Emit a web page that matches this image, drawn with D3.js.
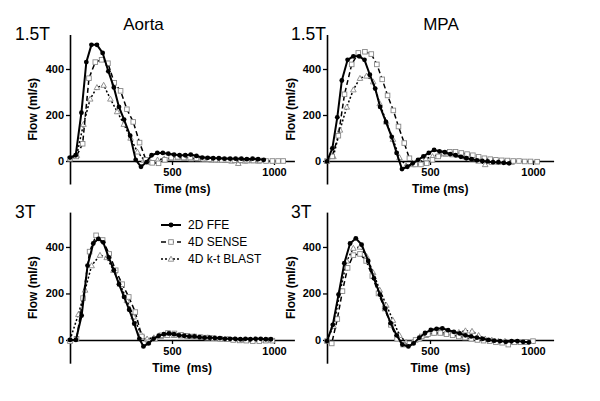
<!DOCTYPE html>
<html><head><meta charset="utf-8">
<script src="https://cdn.jsdelivr.net/npm/d3@7"></script>
<style>
html,body{margin:0;padding:0;background:#fff;}
svg{display:block;font-family:"Liberation Sans",Arial,sans-serif;}
</style></head>
<body><svg id="c" width="600" height="401"></svg>
<script>
// ---------- DATA ----------
const seriesNames = ["2D FFE", "4D SENSE", "4D k-t BLAST"];
const panelTitles = ["Aorta", "MPA"];
const rowLabels = ["1.5T", "3T"];
const xTicks = [500, 1000];
const yTicks = [0, 200, 400];
const xLabelTop = "Time (ms)";
const xLabelBottom = "Time  (ms)";
const yLabel = "Flow (ml/s)";

// Aorta 1.5T
const aorta15_ffe_t = [0,28,56,80,105,132,160,188,215,240,265,295,322,348,375,400,428,455,482,510,537,565,592,620,648,675,702,730,757,785,812,840,867,895,922,950];
const aorta15_ffe_v = [15,25,210,430,505,505,470,390,320,235,180,110,5,-25,-5,25,35,35,32,28,25,25,28,22,15,14,12,12,10,10,10,10,8,10,8,5];
const aorta15_sense_t = [0,31,62,93,124,155,186,217,248,279,310,341,372,403,434,465,496,527,558,589,620,651,682,713,744,775,806,837,868,899,930,961,992,1020,1045];
const aorta15_sense_v = [10,20,75,360,430,440,425,340,305,225,170,80,5,-8,-10,5,15,18,15,15,12,10,8,6,5,5,3,3,2,2,2,0,0,0,0];
const aorta15_kt_t = [0,33,66,99,132,165,198,231,264,297,330,363,396,429,462,495,528,561,594,627,660,693,726,759,792,825,858,891,924];
const aorta15_kt_v = [10,25,160,270,320,330,270,215,160,100,40,5,-5,5,10,12,15,12,10,10,8,5,5,3,0,-10,0,2,0];

// MPA 1.5T
const mpa15_ffe_t = [0,26,50,72,100,128,156,182,208,234,258,286,314,338,364,390,416,442,468,494,520,546,572,598,624,650,676,702,728,754,780,806,832,858,884];
const mpa15_ffe_v = [-2,55,190,350,440,455,455,440,375,315,235,170,105,35,-35,-25,-10,5,20,35,48,42,38,30,25,18,12,8,3,0,-2,-5,-5,-8,-10];
const mpa15_sense_t = [0,25,55,85,120,152,184,215,242,268,294,322,347,375,400,428,456,484,512,540,568,596,624,652,680,708,736,764,792,820,848,876,904,932,960,988,1020];
const mpa15_sense_v = [0,20,110,290,420,470,475,465,420,355,285,220,150,78,12,-15,-15,-10,5,20,35,40,40,35,30,25,18,12,8,5,3,2,0,0,-2,-2,-3];
const mpa15_kt_t = [0,31,63,96,128,160,192,224,256,288,320,352,384,416,448,480,512,544,576,608,640,672,704,736,768,800,832,864,896];
const mpa15_kt_v = [0,20,135,235,310,360,370,345,250,170,95,15,-20,-15,-5,10,20,28,30,28,25,18,10,0,-15,-5,-5,-5,-5];

// Aorta 3T
const aorta3_ffe_t = [0,29,57,86,114,139,163,190,215,240,265,290,315,340,360,385,410,435,460,485,510,535,560,585,610,635,660,685,710,735,760,785,810,835,860,885,910,935,960,985];
const aorta3_ffe_v = [0,0,105,320,415,435,420,355,300,240,185,130,70,5,-28,-15,5,18,25,28,25,20,18,15,15,12,10,10,8,8,5,5,5,3,5,3,5,5,3,3];
const aorta3_sense_t = [0,32,64,96,128,160,192,224,256,288,320,352,384,416,448,480,512,544,576,608,640,672,704,736,768,800,832,864,896,928,960,992];
const aorta3_sense_v = [-5,5,180,380,450,430,370,300,240,185,120,15,-10,5,20,30,28,22,18,15,12,10,8,5,3,0,-2,-3,-5,-5,-3,-3];
const aorta3_kt_t = [0,41,74,106,147,180,213,246,279,312,345,378,411,444,477,510,543,576,609,642,675,708,741,774,807,840,873,906,939,972];
const aorta3_kt_v = [0,110,215,320,365,355,300,240,170,100,30,5,10,15,20,20,18,15,15,12,10,8,5,3,2,0,0,2,0,0];

// MPA 3T
const mpa3_ffe_t = [0,28,56,84,112,140,168,200,228,257,282,309,338,366,395,420,448,476,504,532,560,588,616,644,672,700,728,756,784,812,840,868,896,924,952,980];
const mpa3_ffe_v = [-5,65,195,330,415,437,410,340,265,195,135,72,20,-20,-28,-15,10,30,43,48,50,42,35,28,20,15,10,5,0,-3,-5,-8,-5,-5,-8,-10];
const mpa3_sense_t = [0,23,50,75,100,128,160,190,220,250,280,310,340,370,400,430,460,490,520,550,580,610,640,670,700,730,760,790,820,850,880,910,940,970,1000];
const mpa3_sense_v = [-5,-15,90,210,310,365,370,340,275,200,135,65,5,-20,-15,0,15,25,30,30,25,20,15,10,5,0,-3,-5,-10,-12,-20,-10,-10,-8,-5];
const mpa3_kt_t = [0,32,64,96,128,160,192,224,256,288,320,352,384,416,448,480,512,544,576,608,640,672,704,736,768,800,832,864,896,928,960];
const mpa3_kt_v = [0,60,210,340,395,400,360,290,215,150,85,20,-10,-10,5,20,30,32,30,30,33,40,38,20,5,0,-5,-5,-8,-8,-10];

// ---------- BUILD ----------
const zip = (t, v) => t.map((d, i) => ({t: d, v: v[i]}));
const panels = [
  {x0: 70,  x1: 294.4, yb: 184, yt: 34.5, title: panelTitles[0], row: rowLabels[0], xlab: xLabelTop,
   series: [zip(aorta15_ffe_t, aorta15_ffe_v), zip(aorta15_sense_t, aorta15_sense_v), zip(aorta15_kt_t, aorta15_kt_v)]},
  {x0: 327, x1: 553.6, yb: 184, yt: 34.5, title: panelTitles[1], row: rowLabels[0], xlab: xLabelTop,
   series: [zip(mpa15_ffe_t, mpa15_ffe_v), zip(mpa15_sense_t, mpa15_sense_v), zip(mpa15_kt_t, mpa15_kt_v)]},
  {x0: 70,  x1: 294.4, yb: 363.2, yt: 212.1, row: rowLabels[1], xlab: xLabelBottom, legend: true,
   series: [zip(aorta3_ffe_t, aorta3_ffe_v), zip(aorta3_sense_t, aorta3_sense_v), zip(aorta3_kt_t, aorta3_kt_v)]},
  {x0: 327, x1: 553.6, yb: 363.2, yt: 212.1, row: rowLabels[1], xlab: xLabelBottom,
   series: [zip(mpa3_ffe_t, mpa3_ffe_v), zip(mpa3_sense_t, mpa3_sense_v), zip(mpa3_kt_t, mpa3_kt_v)]}
];

const styles = [
  {dash: null, w: 2, marker: "circle"},
  {dash: "5,3", w: 1.5, marker: "square"},
  {dash: "2,2", w: 1.5, marker: "triangle"}
];

const svg = d3.select("#c");

function drawMarker(g, type, x, y) {
  if (type === "circle") {
    g.append("circle").attr("cx", x).attr("cy", y).attr("r", 2.4).attr("fill", "#000");
  } else if (type === "square") {
    g.append("rect").attr("x", x - 2.3).attr("y", y - 2.3).attr("width", 4.6).attr("height", 4.6)
      .attr("fill", "#fff").attr("stroke", "#888").attr("stroke-width", 0.9);
  } else {
    g.append("path").attr("d", `M${x},${y-2.8}L${x+2.8},${y+2.2}L${x-2.8},${y+2.2}Z`)
      .attr("fill", "#fff").attr("stroke", "#888").attr("stroke-width", 0.9);
  }
}

panels.forEach(p => {
  const x = d3.scaleLinear().domain([0, 1100]).range([p.x0, p.x1]);
  const y = d3.scaleLinear().domain([-100, 550]).range([p.yb, p.yt]);
  const g = svg.append("g");

  // axes
  const ya = g.append("g").attr("transform", `translate(${p.x0},0)`)
    .call(d3.axisLeft(y).tickValues(yTicks).tickFormat(d3.format("d")).tickSize(4).tickSizeOuter(0).tickPadding(2));
  const xa = g.append("g").attr("transform", `translate(0,${y(0)})`)
    .call(d3.axisBottom(x).tickValues(xTicks).tickFormat(d3.format("d")).tickSize(4).tickSizeOuter(0).tickPadding(3));
  [ya, xa].forEach(a => {
    a.selectAll("path.domain").attr("stroke", "#000").attr("stroke-width", 1.6);
    a.selectAll(".tick line").attr("stroke", "#000").attr("stroke-width", 1.3);
    a.selectAll(".tick text").attr("font-size", 11).attr("font-weight", "bold")
      .attr("font-family", "'Liberation Sans',Arial,sans-serif").attr("fill", "#000");
  });

  // axis labels
  g.append("text").attr("x", (p.x0 + p.x1) / 2).attr("y", y(0) + 32)
    .attr("text-anchor", "middle").attr("font-size", 12).attr("font-weight", "bold")
    .style("white-space", "pre").text(p.xlab);
  const lx = p.x0 === 70 ? 33 : 291;
  g.append("text").attr("transform", `translate(${lx},${(p.yb + p.yt) / 2}) rotate(-90)`)
    .attr("text-anchor", "middle").attr("dominant-baseline", "central")
    .attr("font-size", 12).attr("font-weight", "bold").text(yLabel);

  // row labels
  g.append("text").attr("x", p.x0 === 70 ? 15 : 291).attr("y", p.yt + 5.5)
    .attr("font-size", 17.5).text(p.row);
  if (p.title) {
    g.append("text").attr("x", p.x0 === 70 ? 143.5 : 441).attr("y", 30)
      .attr("text-anchor", "middle").attr("font-size", 17).text(p.title);
  }

  // series (draw k-t first, 2D FFE last)
  const line = d3.line().x(d => x(d.t)).y(d => y(d.v));
  [2, 1, 0].forEach(si => {
    const s = styles[si];
    const data = p.series[si];
    g.append("path").datum(data).attr("d", line).attr("fill", "none")
      .attr("stroke", "#000").attr("stroke-width", s.w)
      .attr("stroke-dasharray", s.dash);
    const mg = g.append("g");
    data.forEach(d => drawMarker(mg, s.marker, x(d.t), y(d.v)));
  });

  if (p.legend) {
    const lg = svg.append("g");
    seriesNames.forEach((name, i) => {
      const s = styles[i];
      const yy = 225 + i * 17;
      lg.append("line").attr("x1", 161).attr("x2", 181).attr("y1", yy).attr("y2", yy)
        .attr("stroke", "#000").attr("stroke-width", s.w).attr("stroke-dasharray", s.dash);
      drawMarker(lg, s.marker, 171, yy);
      lg.append("text").attr("x", 188).attr("y", yy).attr("dominant-baseline", "central")
        .attr("font-size", 12).text(name);
    });
  }
});
</script></body></html>
